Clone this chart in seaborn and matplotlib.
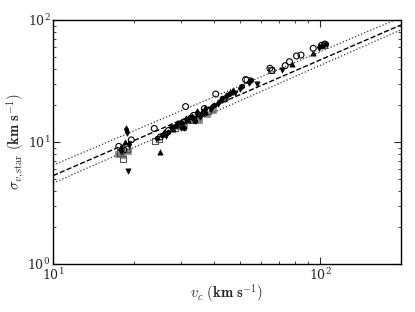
import matplotlib
matplotlib.use('Agg')
import matplotlib.pyplot as plt
import seaborn as sns

# fit lines (km/s)
line_v = [10, 200]
fit_s = [5.3, 91.0]
upper_s = [6.45, 105.0]
lower_s = [4.6, 83.0]

# open circles
circ_v = [17.6, 18.4, 19.6, 23.9, 25.2, 27.0, 31.3, 33.5, 36.8, 40.6, 44.0, 52.5, 64.7, 66.0, 73.8, 76.6, 81.4, 84.6, 94.0, 101.0, 104.0]
circ_s = [9.2, 8.6, 10.4, 12.9, 11.0, 12.4, 19.5, 16.5, 18.8, 24.7, 22.5, 32.5, 40.2, 38.5, 42.2, 45.5, 50.7, 51.6, 58.6, 62.0, 63.5]

# open squares (grey)
osq_v = [17.8, 18.2, 18.9, 24.0, 24.8, 28.5, 33.0, 38.0, 53.0, 65.5, 103.0]
osq_s = [8.1, 7.2, 8.8, 10.1, 10.6, 13.0, 15.0, 18.0, 32.2, 39.0, 62.5]

# filled diamonds
dia_v = [18.7, 18.9, 19.3, 17.9, 26.0, 27.5, 29.0, 30.0, 31.5, 33.0, 34.5, 35.5, 37.0, 39.0, 41.5, 44.5, 47.0, 50.0, 54.0, 99.0]
dia_s = [12.7, 12.0, 9.6, 9.0, 11.9, 13.2, 14.1, 13.3, 15.5, 16.0, 17.5, 16.2, 18.5, 19.0, 21.0, 24.0, 26.0, 27.7, 31.0, 60.5]

# filled triangles down
tdn_v = [19.1, 18.0, 26.5, 30.5, 34.0, 38.5, 48.0, 71.6, 58.0]
tdn_s = [5.8, 8.3, 11.2, 14.0, 15.8, 18.5, 25.0, 39.0, 30.0]

# filled triangles up
tup_v = [25.1, 18.5, 28.0, 32.0, 36.0, 42.0, 46.0, 94.0, 78.1]
tup_s = [8.2, 9.9, 12.8, 15.0, 17.8, 22.0, 25.5, 53.3, 43.6]

# filled grey squares
gsq_v = [17.5, 18.3, 19.0, 29.5, 31.0, 33.5, 35.0, 37.5, 39.5]
gsq_s = [8.0, 7.8, 8.5, 13.5, 13.8, 15.2, 15.0, 17.0, 18.2]

# filled hexagons
hex_v = [24.5, 25.5, 27.0, 28.5, 30.0, 31.0, 32.5, 34.0, 36.0, 37.0, 40.0, 43.0, 45.5, 51.0, 55.0, 101.5, 104.5]
hex_s = [10.8, 11.5, 12.0, 13.5, 14.5, 13.0, 16.0, 14.8, 16.8, 17.2, 20.0, 23.0, 24.5, 28.5, 32.0, 61.0, 64.0]

sns.set_style('ticks')
plt.rcParams['font.family'] = ['DejaVu Serif']
plt.rcParams['mathtext.fontset'] = 'cm'

fig = plt.figure(figsize=(4.15, 3.12), dpi=100)
ax = fig.add_axes([0.128, 0.154, 0.838, 0.782])

sns.lineplot(x=line_v, y=fit_s, ax=ax, color='k', linestyle='--', linewidth=1)
sns.lineplot(x=line_v, y=upper_s, ax=ax, color='#333333', linestyle=':', linewidth=0.9)
sns.lineplot(x=line_v, y=lower_s, ax=ax, color='#333333', linestyle=':', linewidth=0.9)

sz = 14
sns.scatterplot(x=gsq_v, y=gsq_s, ax=ax, marker='s', color='#888888', edgecolor='#888888', s=sz, linewidth=0.5)
sns.scatterplot(x=osq_v, y=osq_s, ax=ax, marker='s', facecolor='none', edgecolor='#555555', s=sz + 4, linewidth=0.8)
sns.scatterplot(x=hex_v, y=hex_s, ax=ax, marker='h', color='k', edgecolor='k', s=sz, linewidth=0.5)
sns.scatterplot(x=dia_v, y=dia_s, ax=ax, marker='d', color='k', edgecolor='k', s=sz, linewidth=0.5)
sns.scatterplot(x=tdn_v, y=tdn_s, ax=ax, marker='v', color='k', edgecolor='k', s=sz, linewidth=0.5)
sns.scatterplot(x=tup_v, y=tup_s, ax=ax, marker='^', color='k', edgecolor='k', s=sz, linewidth=0.5)
sns.scatterplot(x=circ_v, y=circ_s, ax=ax, marker='o', facecolor='none', edgecolor='k', s=sz + 4, linewidth=0.8)

ax.set_xscale('log')
ax.set_yscale('log')
ax.set_xlim(10, 200)
ax.set_ylim(1, 100)
ax.tick_params(which='both', direction='in', top=True, right=True, labelsize=9, pad=2)
ax.tick_params(which='major', length=5)
ax.tick_params(which='minor', length=2.5)
for sp in ax.spines.values():
    sp.set_linewidth(1)
    sp.set_color('k')

ax.set_xlabel(r'$v_c\ \mathbf{(km\ s^{-1})}$', fontsize=10.5, labelpad=0)
ax.set_ylabel(r'$\sigma_{v,\mathrm{star}}\ \mathbf{(km\ s^{-1})}$', fontsize=10.5)
ax.yaxis.set_label_coords(-0.075, 0.5)

fig.savefig('out.png', dpi=100)
